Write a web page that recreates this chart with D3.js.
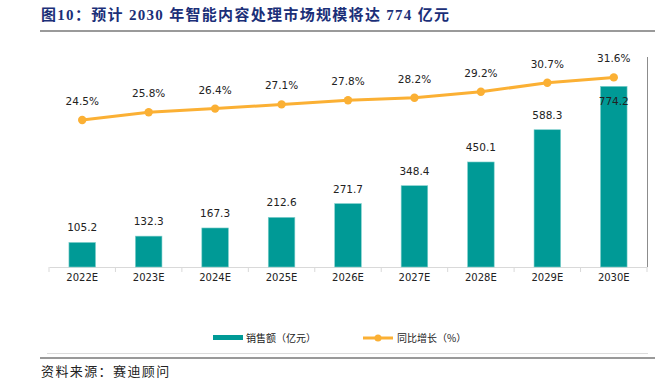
<!DOCTYPE html>
<html>
<head>
<meta charset="utf-8">
<style>
  body { margin: 0; background: #fff; }
  svg { display: block; font-family: "Microsoft YaHei", "Noto Sans CJK SC", "DejaVu Sans", sans-serif; }
</style>
</head>
<body>
<svg id="chart" width="670" height="385"></svg>
<script src="https://d3js.org/d3.v7.min.js"></script>
<script>
  // data
  const years = ["2022E", "2023E", "2024E", "2025E", "2026E", "2027E", "2028E", "2029E", "2030E"]
  const sales = [105.2, 132.3, 167.3, 212.6, 271.7, 348.4, 450.1, 588.3, 774.2]
  const growth = [24.5, 25.8, 26.4, 27.1, 27.8, 28.2, 29.2, 30.7, 31.6]
  const legendLabels = ["销售额（亿元）", "同比增长（%）"]

  const barColor = "#009a96"
  const lineColor = "#fbb034"

  const svg = d3.select("#chart")

  // title + rule under it
  svg.append("text")
    .attr("x", 41).attr("y", 20)
    .attr("fill", "#1b2f78")
    .attr("font-size", 15)
    .attr("font-weight", "bold")
    .attr("font-family", "'Liberation Serif', 'Noto Sans CJK SC', serif")
    .attr("textLength", 408)
    .attr("lengthAdjust", "spacing")
    .text("图10：预计 2030 年智能内容处理市场规模将达 774 亿元")
  svg.append("line")
    .attr("x1", 40).attr("x2", 655).attr("y1", 31).attr("y2", 31)
    .attr("stroke", "#9a9a9a").attr("stroke-width", 2)

  let x = d3.scaleBand()
    .domain(years)
    .range([49, 647])
    .paddingInner(0.6)
    .paddingOuter(0.3)

  let y = d3.scaleLinear().domain([0, 900]).range([267, 57])
  let y2 = d3.scaleLinear().domain([0, 35]).range([267, 57])

  // category axis
  let xAxis = d3.axisBottom(x).tickSize(0).tickPadding(7)
  let gx = svg.append("g")
    .attr("transform", "translate(0,267)")
    .call(xAxis)
  gx.select(".domain").attr("stroke", "#d9d9d9")
  gx.selectAll("text").attr("font-size", 10).attr("fill", "#222")
    .attr("font-family", "'DejaVu Sans', sans-serif")
  // tick marks between the categories
  let step = x.step()
  let bounds = d3.range(years.length + 1).map(i => 49 + i * step)
  gx.selectAll(".sep")
    .data(bounds)
    .enter().append("line")
    .attr("class", "sep")
    .attr("x1", d => d).attr("x2", d => d)
    .attr("y1", 0).attr("y2", 5)
    .attr("stroke", "#d9d9d9")

  // right frame line
  svg.append("line")
    .attr("x1", 647.5).attr("x2", 647.5)
    .attr("y1", y(900)).attr("y2", y(0))
    .attr("stroke", "#8c8c8c")

  // bars
  svg.selectAll(".bar")
    .data(sales)
    .enter().append("rect")
    .attr("class", "bar")
    .attr("x", (d, i) => x(years[i]))
    .attr("y", d => y(d))
    .attr("width", x.bandwidth())
    .attr("height", d => y(0) - y(d))
    .attr("fill", barColor)
    .attr("stroke", "#7fcfcc")
    .attr("stroke-width", 0.6)

  // bar labels (inside the bar when it would run into the line)
  svg.selectAll(".barlabel")
    .data(sales)
    .enter().append("text")
    .attr("x", (d, i) => x(years[i]) + x.bandwidth() / 2)
    .attr("y", (d, i) => (y(d) - 12 < y2(growth[i]) + 12) ? y(d) + 19 : y(d) - 11)
    .attr("text-anchor", "middle")
    .attr("font-size", 10.5)
    .attr("fill", "#222")
    .attr("font-family", "'DejaVu Sans', sans-serif")
    .text(d => d.toFixed(1))

  // growth line
  let line = d3.line()
    .x((d, i) => x(years[i]) + x.bandwidth() / 2)
    .y(d => y2(d))
  svg.append("path")
    .datum(growth)
    .attr("d", line)
    .attr("fill", "none")
    .attr("stroke", lineColor)
    .attr("stroke-width", 3)

  svg.selectAll(".dot")
    .data(growth)
    .enter().append("circle")
    .attr("cx", (d, i) => x(years[i]) + x.bandwidth() / 2)
    .attr("cy", d => y2(d))
    .attr("r", 4.2)
    .attr("fill", lineColor)

  svg.selectAll(".pct")
    .data(growth)
    .enter().append("text")
    .attr("x", (d, i) => x(years[i]) + x.bandwidth() / 2)
    .attr("y", d => y2(d) - 15)
    .attr("text-anchor", "middle")
    .attr("font-size", 10.5)
    .attr("fill", "#222")
    .attr("font-family", "'DejaVu Sans', sans-serif")
    .text(d => d.toFixed(1) + "%")

  // legend
  let legend = svg.append("g").attr("font-size", 10).attr("fill", "#222")
  legend.append("rect")
    .attr("x", 213).attr("y", 335).attr("width", 30).attr("height", 5)
    .attr("fill", barColor)
  legend.append("text").attr("x", 246).attr("y", 341.5).text(legendLabels[0])
  legend.append("line")
    .attr("x1", 363).attr("x2", 393).attr("y1", 338).attr("y2", 338)
    .attr("stroke", lineColor).attr("stroke-width", 3)
  legend.append("circle").attr("cx", 378).attr("cy", 338).attr("r", 3.5).attr("fill", lineColor)
  legend.append("text").attr("x", 397).attr("y", 341.5).text(legendLabels[1])

  // bottom rules + source
  svg.append("line")
    .attr("x1", 47).attr("x2", 648).attr("y1", 353.5).attr("y2", 353.5)
    .attr("stroke", "#dcdcdc")
  svg.append("line")
    .attr("x1", 40).attr("x2", 655).attr("y1", 358).attr("y2", 358)
    .attr("stroke", "#777").attr("stroke-width", 1.5)
  svg.append("text")
    .attr("x", 41).attr("y", 376)
    .attr("font-size", 13)
    .attr("letter-spacing", 1.4)
    .attr("fill", "#222")
    .attr("font-family", "'Noto Sans CJK SC', serif")
    .text("资料来源：赛迪顾问")
</script>
</body>
</html>
